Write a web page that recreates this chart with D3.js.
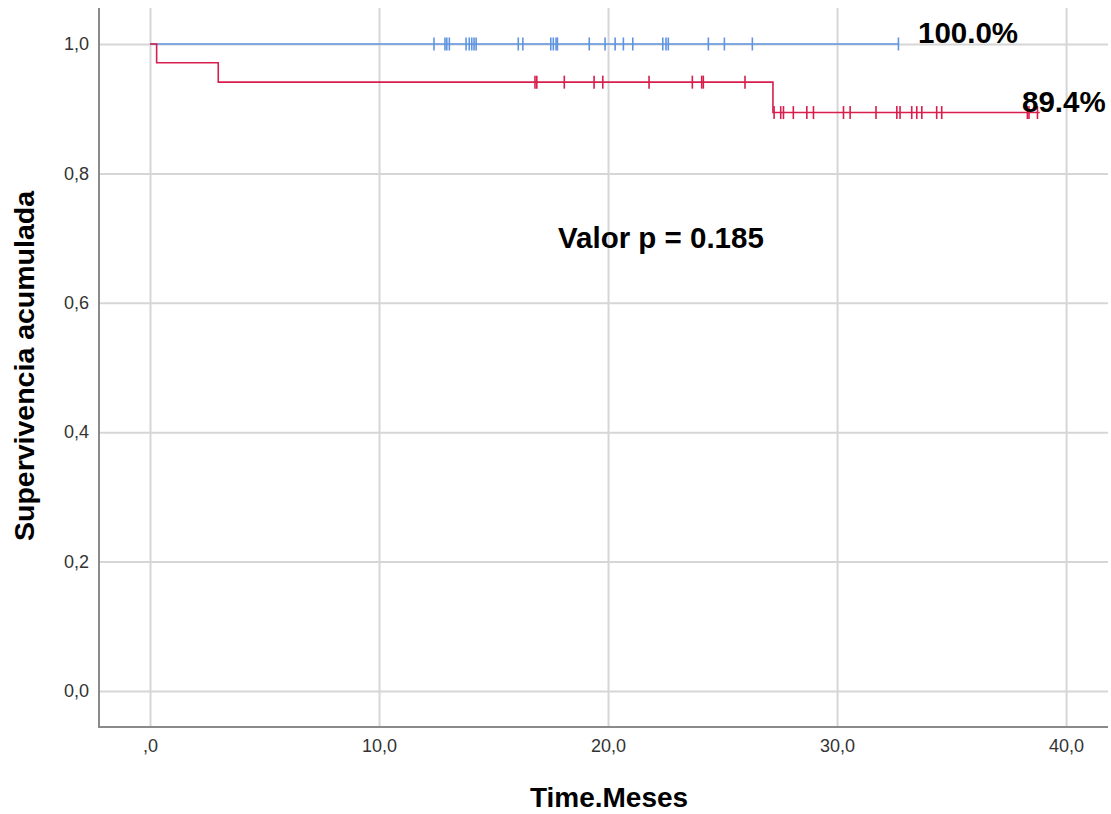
<!doctype html>
<html>
<head>
    <style>
        body { margin: 0; background: #fff; }
        svg { display: block; }
        .grid line { stroke: #d6d6d6; stroke-width: 2; }
        .grid path { display: none; }
        .tick text { font-family: "Liberation Sans", Arial, sans-serif; font-size: 18px; fill: #333; }
        .big { font-family: "Liberation Sans", Arial, sans-serif; font-weight: bold; fill: #000; }
    </style>
    <script src="https://d3js.org/d3.v7.min.js"></script>
</head>
<body>
<svg width="1111" height="814"></svg>
<script>
// values (months, cumulative survival)
var xTicks = [0, 10, 20, 30, 40];
var xTickLabels = [",0", "10,0", "20,0", "30,0", "40,0"];
var yTicks = [0, 0.2, 0.4, 0.6, 0.8, 1.0];
var yTickLabels = ["0,0", "0,2", "0,4", "0,6", "0,8", "1,0"];

var blueTimes = [0];
var blueSurv = [1.0];
var blueEnd = 32.68;
var blueCensored = [12.40, 12.88, 12.96, 13.07, 13.80, 13.94, 14.05, 14.15, 14.24,
    16.08, 16.28, 17.50, 17.61, 17.73, 17.79, 19.18, 19.87, 20.31, 20.67, 21.08,
    22.39, 22.53, 22.63, 24.38, 25.08, 26.30, 32.68];

var redTimes = [0, 0.29, 2.98, 27.20];
var redSurv = [1.0, 0.971, 0.941, 0.894];
var redEnd = 38.85;
var redCensored = [16.81, 16.89, 18.09, 19.39, 19.77, 21.79, 23.68, 24.09, 24.16, 25.98,
    27.25, 27.54, 27.66, 28.09, 28.68, 28.97, 30.28, 30.57, 31.70, 32.61, 32.75,
    33.26, 33.48, 33.70, 34.35, 34.57, 38.31, 38.38, 38.75];

var svg = d3.select("svg");
var plotL = 99, plotR = 1108, plotT = 8, plotB = 727;

var x = d3.scaleLinear().domain([-2.227, 41.83]).range([plotL, plotR]);
var y = d3.scaleLinear().domain([-0.0556, 1.0556]).range([plotB, plotT]);

// grid lines
svg.append("g")
    .attr("class", "grid")
    .attr("transform", "translate(0," + plotB + ")")
    .call(d3.axisBottom(x).tickValues(xTicks).tickSize(-(plotB - plotT)).tickFormat(""));
svg.append("g")
    .attr("class", "grid")
    .attr("transform", "translate(" + plotL + ",0)")
    .call(d3.axisLeft(y).tickValues(yTicks).tickSize(-(plotR - plotL)).tickFormat(""));

// tick labels
var xAxis = svg.append("g")
    .attr("transform", "translate(0," + plotB + ")")
    .call(d3.axisBottom(x).tickValues(xTicks).tickSize(0).tickPadding(12)
        .tickFormat(function(d, i) { return xTickLabels[i]; }));
xAxis.select(".domain").remove();

var yAxis = svg.append("g")
    .attr("transform", "translate(" + plotL + ",0)")
    .call(d3.axisLeft(y).tickValues(yTicks).tickSize(0).tickPadding(10)
        .tickFormat(function(d, i) { return yTickLabels[i]; }));
yAxis.select(".domain").remove();

// axis lines
svg.append("line").attr("x1", plotL).attr("x2", plotL).attr("y1", plotT).attr("y2", plotB + 1)
    .attr("stroke", "#8a8a8a").attr("stroke-width", 2);
svg.append("line").attr("x1", plotL).attr("x2", plotR).attr("y1", plotB).attr("y2", plotB)
    .attr("stroke", "#8a8a8a").attr("stroke-width", 2);

function stepAt(times, surv, t) {
    var s = surv[0];
    for (var i = 0; i < times.length; i++) if (times[i] <= t) s = surv[i];
    return s;
}

function drawCurve(times, surv, end, censored, color) {
    var pts = times.map(function(t, i) { return [t, surv[i]]; });
    pts.push([end, surv[surv.length - 1]]);
    var line = d3.line()
        .x(function(d) { return x(d[0]); })
        .y(function(d) { return y(d[1]); })
        .curve(d3.curveStepAfter);
    svg.append("path")
        .datum(pts)
        .attr("fill", "none")
        .attr("stroke", color)
        .attr("stroke-width", 1.6)
        .attr("d", line);
    svg.append("g").selectAll("line")
        .data(censored)
        .enter().append("line")
        .attr("x1", function(d) { return x(d); })
        .attr("x2", function(d) { return x(d); })
        .attr("y1", function(d) { return y(stepAt(times, surv, d)) - 6.5; })
        .attr("y2", function(d) { return y(stepAt(times, surv, d)) + 6.5; })
        .attr("stroke", color)
        .attr("stroke-width", 1.6);
}

drawCurve(blueTimes, blueSurv, blueEnd, blueCensored, "#5f95e0");
drawCurve(redTimes, redSurv, redEnd, redCensored, "#d81e4c");

// texts
svg.append("text").attr("class", "big").attr("x", 918).attr("y", 43)
    .style("font-size", "29.5px").text("100.0%");
svg.append("text").attr("class", "big").attr("x", 1022).attr("y", 112)
    .style("font-size", "29.5px").text("89.4%");
svg.append("text").attr("class", "big").attr("x", 558).attr("y", 248)
    .style("font-size", "29.5px").text("Valor p = 0.185");

svg.append("text").attr("class", "big")
    .attr("x", 609).attr("y", 807)
    .attr("text-anchor", "middle")
    .style("font-size", "28px")
    .text("Time.Meses");
svg.append("text").attr("class", "big")
    .attr("transform", "translate(34,366) rotate(-90)")
    .attr("text-anchor", "middle")
    .style("font-size", "28.5px")
    .text("Supervivencia acumulada");
</script>
</body>
</html>
